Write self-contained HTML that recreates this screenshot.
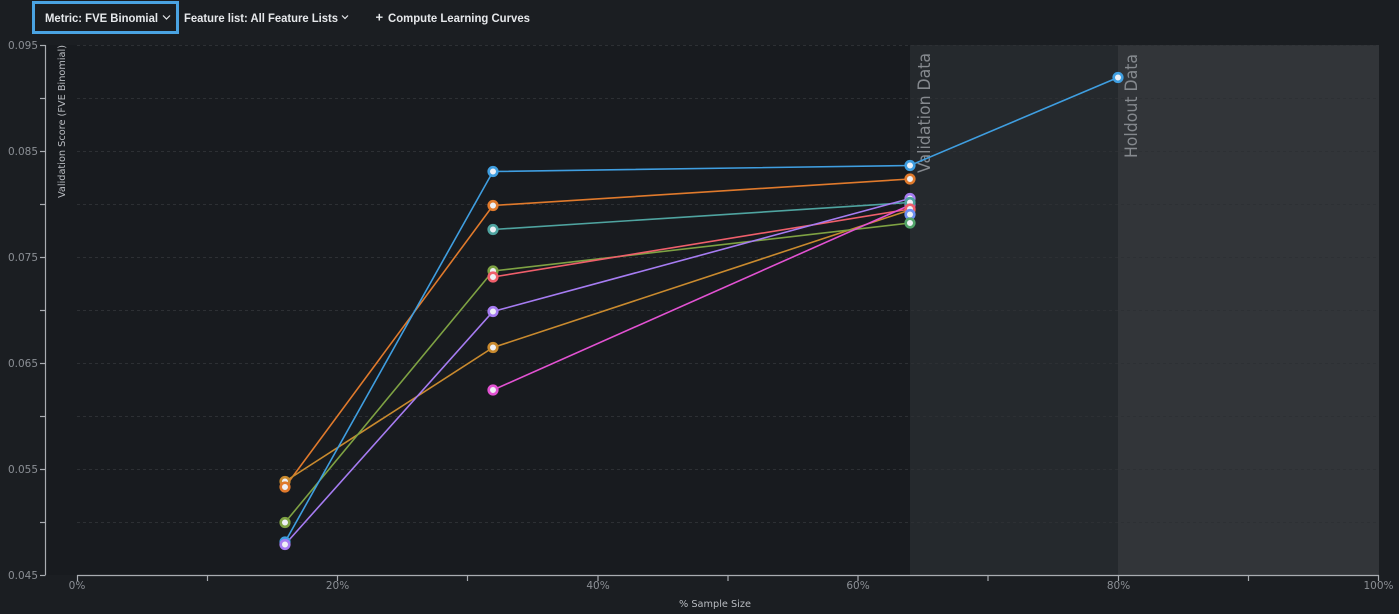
<!DOCTYPE html>
<html><head><meta charset="utf-8"><style>
html,body{margin:0;padding:0;background:#1b1e22;width:1399px;height:614px;overflow:hidden;}
svg{display:block;}
</style></head><body>
<svg width="1399" height="614" viewBox="0 0 1399 614" xmlns="http://www.w3.org/2000/svg">
<rect x="0" y="0" width="1399" height="614" fill="#1b1e22"/>
<rect x="46" y="45" width="1333" height="530" fill="#181b1f"/>
<!-- shaded regions -->
<rect x="910" y="45" width="208" height="530" fill="#25292d"/>
<rect x="1118" y="45" width="261" height="530" fill="#323539"/>
<!-- grid -->
<g stroke="#2d3034" stroke-width="1" stroke-dasharray="3,3">
<line x1="77" y1="45.5" x2="1379" y2="45.5"/>
<line x1="77" y1="98.5" x2="1379" y2="98.5"/>
<line x1="77" y1="151.5" x2="1379" y2="151.5"/>
<line x1="77" y1="204.5" x2="1379" y2="204.5"/>
<line x1="77" y1="257.5" x2="1379" y2="257.5"/>
<line x1="77" y1="310.5" x2="1379" y2="310.5"/>
<line x1="77" y1="363.5" x2="1379" y2="363.5"/>
<line x1="77" y1="416.5" x2="1379" y2="416.5"/>
<line x1="77" y1="469.5" x2="1379" y2="469.5"/>
<line x1="77" y1="522.5" x2="1379" y2="522.5"/>
</g>
<!-- region labels -->
<text transform="translate(930,173) rotate(-90)" font-family="DejaVu Sans, sans-serif" font-size="17" fill="#85898e" textLength="120" lengthAdjust="spacingAndGlyphs">Validation Data</text>
<text transform="translate(1137,158) rotate(-90)" font-family="DejaVu Sans, sans-serif" font-size="17" fill="#85898e" textLength="104" lengthAdjust="spacingAndGlyphs">Holdout Data</text>
<!-- y axis -->
<g stroke="#a9acb1" stroke-width="1.2">
<line x1="45.5" y1="45" x2="45.5" y2="575"/>
<line x1="40" y1="45.5" x2="45.5" y2="45.5"/>
<line x1="40" y1="98.5" x2="45.5" y2="98.5"/>
<line x1="40" y1="151.5" x2="45.5" y2="151.5"/>
<line x1="40" y1="204.5" x2="45.5" y2="204.5"/>
<line x1="40" y1="257.5" x2="45.5" y2="257.5"/>
<line x1="40" y1="310.5" x2="45.5" y2="310.5"/>
<line x1="40" y1="363.5" x2="45.5" y2="363.5"/>
<line x1="40" y1="416.5" x2="45.5" y2="416.5"/>
<line x1="40" y1="469.5" x2="45.5" y2="469.5"/>
<line x1="40" y1="522.5" x2="45.5" y2="522.5"/>
<line x1="40" y1="575.5" x2="45.5" y2="575.5"/>
</g>
<g font-family="DejaVu Sans, sans-serif" font-size="10.5" fill="#8b8f95" text-anchor="end">
<text x="38" y="49">0.095</text>
<text x="38" y="155">0.085</text>
<text x="38" y="261">0.075</text>
<text x="38" y="367">0.065</text>
<text x="38" y="473">0.055</text>
<text x="38" y="579">0.045</text>
</g>
<text transform="translate(65,198) rotate(-90)" font-family="DejaVu Sans, sans-serif" font-size="10" fill="#b9bcc1" textLength="153" lengthAdjust="spacingAndGlyphs">Validation Score (FVE Binomial)</text>
<!-- x axis -->
<g stroke="#a9acb1" stroke-width="1.2">
<line x1="77" y1="575.5" x2="1379" y2="575.5"/>
<line x1="77.5" y1="575" x2="77.5" y2="581"/>
<line x1="207.5" y1="575" x2="207.5" y2="581"/>
<line x1="337.5" y1="575" x2="337.5" y2="581"/>
<line x1="467.5" y1="575" x2="467.5" y2="581"/>
<line x1="598" y1="575" x2="598" y2="581"/>
<line x1="728" y1="575" x2="728" y2="581"/>
<line x1="858" y1="575" x2="858" y2="581"/>
<line x1="988" y1="575" x2="988" y2="581"/>
<line x1="1118.5" y1="575" x2="1118.5" y2="581"/>
<line x1="1248.5" y1="575" x2="1248.5" y2="581"/>
<line x1="1378.5" y1="575" x2="1378.5" y2="581"/>
</g>
<g font-family="DejaVu Sans, sans-serif" font-size="10.5" fill="#8b8f95" text-anchor="middle">
<text x="77" y="589">0%</text>
<text x="337.5" y="589">20%</text>
<text x="598" y="589">40%</text>
<text x="858" y="589">60%</text>
<text x="1118.5" y="589">80%</text>
<text x="1378.5" y="589">100%</text>
</g>
<text x="715" y="607" font-family="DejaVu Sans, sans-serif" font-size="10" fill="#b9bcc1" text-anchor="middle" textLength="72" lengthAdjust="spacingAndGlyphs">% Sample Size</text>
<!-- series lines -->
<g fill="none" stroke-width="1.6">
<polyline points="285,487 493,205.5 910,179" stroke="#e07a2c"/>
<polyline points="285,481.5 493,347.5 910,210" stroke="#c98a2e"/>
<polyline points="285,522.5 493,271 910,223" stroke="#7ea243"/>
<polyline points="493,229.5 910,202.5" stroke="#4fa4a0"/>
<polyline points="493,277 910,209" stroke="#ef5f6b"/>
<polyline points="493,390 910,205" stroke="#e252d2"/>
<polyline points="285,544.5 493,311.5 910,198.5" stroke="#a67cf2"/>
<polyline points="285,542 493,171.5 910,165.5 1118,77.5" stroke="#3f9ee0"/>
</g>
<!-- markers -->
<g stroke-width="2.6" fill="#eef0f5">
<circle cx="285" cy="481.5" r="4.3" stroke="#c98a2e"/>
<circle cx="285" cy="487" r="4.3" stroke="#e07a2c"/>
<circle cx="285" cy="522.5" r="4.3" stroke="#7ea243"/>
<circle cx="285" cy="542" r="4.3" stroke="#3f9ee0"/>
<circle cx="285" cy="544.5" r="4.3" stroke="#a67cf2"/>
<circle cx="493" cy="171.5" r="4.3" stroke="#3f9ee0"/>
<circle cx="493" cy="205.5" r="4.3" stroke="#e07a2c"/>
<circle cx="493" cy="229.5" r="4.3" stroke="#4fa4a0"/>
<circle cx="493" cy="271" r="4.3" stroke="#7ea243"/>
<circle cx="493" cy="277" r="4.3" stroke="#ef5f6b"/>
<circle cx="493" cy="311.5" r="4.3" stroke="#a67cf2"/>
<circle cx="493" cy="347.5" r="4.3" stroke="#c98a2e"/>
<circle cx="493" cy="390" r="4.3" stroke="#e252d2"/>
<circle cx="910" cy="198.5" r="4.3" stroke="#a67cf2"/>
<circle cx="910" cy="205" r="4.3" stroke="#e252d2"/>
<circle cx="910" cy="202.5" r="4.3" stroke="#4fa4a0"/>
<circle cx="910" cy="210" r="4.3" stroke="#c98a2e"/>
<circle cx="910" cy="209" r="4.3" stroke="#ef5f6b"/>
<circle cx="910" cy="214.5" r="4.3" stroke="#6d8ff2"/>
<circle cx="910" cy="223" r="4.3" stroke="#52a46a"/>
<circle cx="910" cy="179" r="4.3" stroke="#e07a2c"/>
<circle cx="910" cy="165.5" r="4.3" stroke="#3f9ee0"/>
<circle cx="1118" cy="77.5" r="4.3" stroke="#3f9ee0"/>
</g>
<!-- top bar -->
<rect x="33.5" y="2.5" width="144" height="30" fill="none" stroke="#4aa3e2" stroke-width="3"/>
<g font-family="Liberation Sans, sans-serif" font-size="12" font-weight="bold" fill="#e6e8eb">
<text x="45" y="22" textLength="113" lengthAdjust="spacingAndGlyphs">Metric: FVE Binomial</text>
<text x="184" y="22" textLength="154" lengthAdjust="spacingAndGlyphs">Feature list: All Feature Lists</text>
<text x="375.5" y="21.5" font-size="13">+</text>
<text x="388" y="22" textLength="142" lengthAdjust="spacingAndGlyphs">Compute Learning Curves</text>
</g>
<g fill="none" stroke="#e6e8eb" stroke-width="1.2">
<polyline points="163,15.5 166.5,19 170,15.5"/>
<polyline points="342,15.5 345,18.5 348,15.5"/>
</g>
</svg>
</body></html>
